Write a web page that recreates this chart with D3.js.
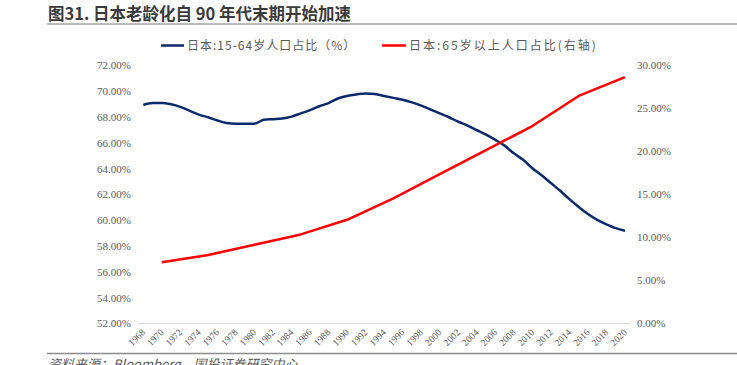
<!DOCTYPE html>
<html><head><meta charset="utf-8">
<script src="https://cdn.jsdelivr.net/npm/d3@7"></script>
<style>body{margin:0;background:#fff;}svg{display:block;}</style>
</head><body>
<svg id="c" width="737" height="365"></svg>
<script>
const years = d3.range(1968, 2021);
const workingAge = [68.9,69.05,69.05,68.95,68.75,68.45,68.15,67.95,67.7,67.5,67.45,67.45,67.45,67.75,67.8,67.85,68.0,68.25,68.5,68.8,69.05,69.4,69.6,69.72,69.8,69.75,69.6,69.45,69.3,69.1,68.85,68.55,68.25,67.95,67.6,67.3,66.95,66.6,66.2,65.75,65.15,64.65,64.0,63.45,62.85,62.25,61.6,61.0,60.45,60.0,59.65,59.35,59.15];
const elderlyYears = [1970,1975,1980,1985,1990,1995,2000,2005,2010,2015,2020];
const elderly = [7.07,7.9,9.1,10.3,12.0,14.5,17.3,20.1,22.9,26.4,28.6];
const leftTicks = [52,54,56,58,60,62,64,66,68,70,72];
const rightTicks = [0,5,10,15,20,25,30];
const xLabels = d3.range(1968, 2021, 2);
const title = "图31. 日本老龄化自 90 年代末期开始加速";
const legendLabels = ["日本:15-64岁人口占比（%）", "日本:65岁以上人口占比(右轴)"];
const source = "资料来源：Bloomberg，国投证券研究中心";

const svg = d3.select("#c");
const x = d3.scaleLinear().domain([1968, 2020]).range([143.3, 625]);
const yL = d3.scaleLinear().domain([52, 72]).range([323, 65]);
const yR = d3.scaleLinear().domain([0, 30]).range([323, 65]);
const serif = "'Liberation Serif','Times New Roman',serif";
const gray = "#595959";

// title
svg.append("text").attr("x", 48).attr("y", 20).text(title)
  .attr("font-family", "'Noto Sans CJK SC',sans-serif").attr("font-weight", "bold")
  .attr("font-size", 16.5).attr("fill", "#3a3a3a");
svg.append("line").attr("x1", 47).attr("x2", 737).attr("y1", 24).attr("y2", 24)
  .attr("stroke", "#a6a6a6").attr("stroke-width", 1.5);

// legend
const lg = [{x1:161,x2:184,tx:187,c:"#0c2a6b",t:legendLabels[0],ls:1},{x1:382,x2:406,tx:409,c:"#ff0000",t:legendLabels[1],ls:2}];
lg.forEach(d => {
  svg.append("line").attr("x1", d.x1).attr("x2", d.x2).attr("y1", 45.5).attr("y2", 45.5)
    .attr("stroke", d.c).attr("stroke-width", 2.5);
  svg.append("text").attr("x", d.tx).attr("y", 50).text(d.t)
    .attr("font-family", "'Noto Sans CJK SC',sans-serif").attr("font-size", 12)
    .attr("letter-spacing", d.ls).attr("fill", gray);
});

// axes
const axL = d3.axisLeft(yL).tickValues(leftTicks).tickSize(0).tickPadding(0)
  .tickFormat(d => d.toFixed(2) + "%");
const gL = svg.append("g").attr("transform", "translate(131,0)").call(axL);
gL.select(".domain").remove();
gL.selectAll("text").attr("font-family", serif).attr("font-size", 11).attr("fill", gray).attr("dy", "0.35em");

const axR = d3.axisRight(yR).tickValues(rightTicks).tickSize(0).tickPadding(0)
  .tickFormat(d => d.toFixed(2) + "%");
const gR = svg.append("g").attr("transform", "translate(637,0)").call(axR);
gR.select(".domain").remove();
gR.selectAll("text").attr("font-family", serif).attr("font-size", 11).attr("fill", gray).attr("dy", "0.35em");

svg.append("line").attr("x1", 138).attr("x2", 630).attr("y1", 323.5).attr("y2", 323.5)
  .attr("stroke", "#d9d9d9").attr("stroke-width", 1);

const axB = d3.axisBottom(x).tickValues(xLabels).tickSize(0).tickFormat(d => d);
const gB = svg.append("g").attr("transform", "translate(0,323)").call(axB);
gB.select(".domain").remove();
gB.selectAll("text").attr("font-family", serif).attr("font-size", 9.5).attr("fill", gray)
  .attr("text-anchor", "end").attr("dy", null).attr("y", 0)
  .attr("transform", "translate(2,10) rotate(-45)");

// lines
const lineL = d3.line().x((d, i) => x(years[i])).y(d => yL(d)).curve(d3.curveMonotoneX);
svg.append("path").attr("d", lineL(workingAge)).attr("fill", "none")
  .attr("stroke", "#0c2a6b").attr("stroke-width", 2.5);
const lineR = d3.line().x((d, i) => x(elderlyYears[i])).y(d => yR(d));
svg.append("path").attr("d", lineR(elderly)).attr("fill", "none")
  .attr("stroke", "#ff0000").attr("stroke-width", 2.5).attr("stroke-linejoin", "round");

// footer
svg.append("line").attr("x1", 47).attr("x2", 737).attr("y1", 353.5).attr("y2", 353.5)
  .attr("stroke", "#8c8c8c").attr("stroke-width", 1.5);
svg.append("text").attr("x", 48).attr("y", 369).text(source)
  .attr("font-family", "'Noto Sans CJK SC',sans-serif").attr("font-style", "italic")
  .attr("font-size", 13).attr("fill", "#595959");
</script>
</body></html>
